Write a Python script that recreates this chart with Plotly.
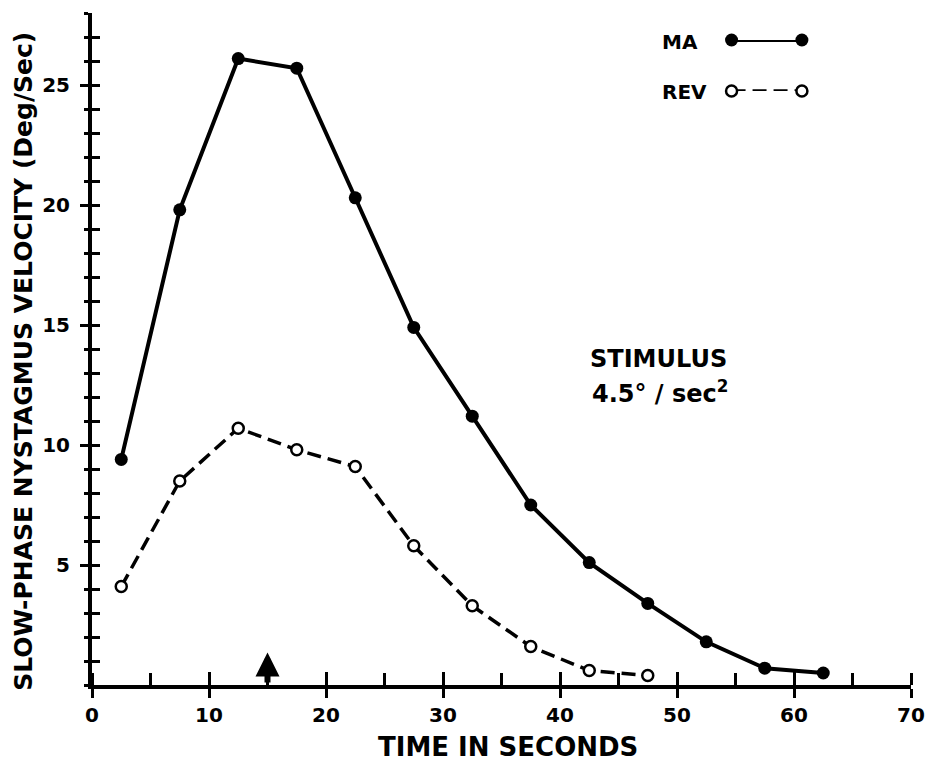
import plotly.graph_objects as go

# ---- data ----
time_ma = [2.5, 7.5, 12.5, 17.5, 22.5, 27.5, 32.5, 37.5, 42.5, 47.5, 52.5, 57.5, 62.5]
vel_ma = [9.4, 19.8, 26.1, 25.7, 20.3, 14.9, 11.2, 7.5, 5.1, 3.4, 1.8, 0.7, 0.5]
time_rev = [2.5, 7.5, 12.5, 17.5, 22.5, 27.5, 32.5, 37.5, 42.5, 47.5]
vel_rev = [4.1, 8.5, 10.7, 9.8, 9.1, 5.8, 3.3, 1.6, 0.6, 0.4]
x_ticks = [0, 10, 20, 30, 40, 50, 60, 70]
y_ticks = [5, 10, 15, 20, 25]
stimulus_time = 15
legend_names = ["MA", "REV"]

FONT = "DejaVu Sans"
BLACK = "black"

fig = go.Figure()

fig.add_trace(go.Scatter(
    x=time_ma, y=vel_ma, mode="lines+markers", name="MA",
    line=dict(color=BLACK, width=4),
    marker=dict(symbol="circle", size=13, color=BLACK),
    cliponaxis=False, showlegend=False))

fig.add_trace(go.Scatter(
    x=time_rev, y=vel_rev, mode="lines+markers", name="REV",
    line=dict(color=BLACK, width=3.5, dash="14px,7px"),
    marker=dict(symbol="circle", size=11, color="white",
                line=dict(color=BLACK, width=2.5)),
    cliponaxis=False, showlegend=False))

# invisible trace so the overlay axes (extra tick directions) are drawn
fig.add_trace(go.Scatter(x=time_ma, y=vel_ma, xaxis="x2", yaxis="y2",
                         mode="markers", marker=dict(opacity=0),
                         hoverinfo="skip", showlegend=False))

# custom legend keys
fig.add_trace(go.Scatter(x=[0, 1], y=[1, 1], xaxis="x3", yaxis="y3",
                         mode="lines+markers",
                         line=dict(color=BLACK, width=4),
                         marker=dict(size=13, color=BLACK),
                         cliponaxis=False, showlegend=False, hoverinfo="skip"))
fig.add_trace(go.Scatter(x=[0, 1], y=[0, 0], xaxis="x3", yaxis="y3",
                         mode="lines+markers",
                         line=dict(color=BLACK, width=3.5, dash="14px,7px"),
                         marker=dict(size=11, color="white",
                                     line=dict(color=BLACK, width=2.5)),
                         cliponaxis=False, showlegend=False, hoverinfo="skip"))

tickfont = dict(family=FONT, size=20, color=BLACK, weight="bold")

fig.update_layout(
    width=937, height=766,
    margin=dict(l=92, r=19, t=13, b=81),
    paper_bgcolor="white", plot_bgcolor="white",
    font=dict(family=FONT, color=BLACK),
    xaxis=dict(range=[0, 70], showgrid=False, zeroline=False,
               showline=True, linewidth=4, linecolor=BLACK,
               tickmode="array", tickvals=x_ticks,
               ticktext=[str(v) for v in x_ticks],
               ticks="outside", ticklen=9, tickwidth=3, tickcolor=BLACK,
               ticklabelstandoff=0,
               minor=dict(dtick=5, ticks="inside", ticklen=12, tickwidth=3,
                          tickcolor=BLACK, showgrid=False),
               tickfont=tickfont, fixedrange=True),
    yaxis=dict(range=[0, 28], showgrid=False, zeroline=False,
               showline=True, linewidth=4, linecolor=BLACK,
               tickmode="array", tickvals=y_ticks,
               ticktext=[str(v) for v in y_ticks],
               ticks="outside", ticklen=8, tickwidth=3, tickcolor=BLACK,
               ticklabelstandoff=6,
               minor=dict(dtick=1, ticks="outside", ticklen=4, tickwidth=3,
                          tickcolor=BLACK, showgrid=False),
               tickfont=tickfont, fixedrange=True),
    xaxis2=dict(range=[0, 70], overlaying="x", showgrid=False, zeroline=False,
                showline=False, tickmode="array", tickvals=x_ticks,
                ticks="inside", ticklen=13, tickwidth=3, tickcolor=BLACK,
                showticklabels=False, side="bottom", fixedrange=True),
    yaxis2=dict(range=[0, 28], overlaying="y", showgrid=False, zeroline=False,
                showline=False, tickmode="array", tickvals=y_ticks,
                ticks="inside", ticklen=8, tickwidth=3, tickcolor=BLACK,
                minor=dict(dtick=1, ticks="inside", ticklen=8, tickwidth=3,
                           tickcolor=BLACK, showgrid=False),
                showticklabels=False, side="left", fixedrange=True),
    xaxis3=dict(domain=[0.7809, 0.8668], range=[0, 1], visible=False,
                anchor="y3", fixedrange=True),
    yaxis3=dict(domain=[0.8839, 0.9598], range=[0, 1], visible=False,
                anchor="x3", fixedrange=True),
)

bold = dict(family=FONT, color=BLACK, weight="bold")

annotations = [
    # stimulus marker arrow
    dict(x=stimulus_time, y=1.35, ax=stimulus_time, ay=0, xref="x", yref="y",
         axref="x", ayref="y", text=" ", showarrow=True, arrowhead=2,
         arrowwidth=6, arrowsize=0.8, arrowcolor=BLACK, standoff=0,
         font=dict(size=2)),
    # legend texts
    dict(x=0.6937, y=0.9573, xref="paper", yref="paper", text=legend_names[0],
         showarrow=False, xanchor="left", yanchor="middle",
         font=dict(size=20, **bold)),
    dict(x=0.6937, y=0.8829, xref="paper", yref="paper", text=legend_names[1],
         showarrow=False, xanchor="left", yanchor="middle",
         font=dict(size=20, **bold)),
    # stimulus text
    dict(x=0.6913, y=0.4851, xref="paper", yref="paper", text="STIMULUS",
         showarrow=False, xanchor="center", yanchor="middle",
         font=dict(size=24, **bold)),
    dict(x=0.6937, y=0.436, xref="paper", yref="paper",
         text="4.5° / sec<sup>2</sup>",
         showarrow=False, xanchor="center", yanchor="middle",
         font=dict(size=24, **bold)),
    # axis titles
    dict(x=-0.0847, y=0.482, xref="paper", yref="paper",
         text="SLOW-PHASE NYSTAGMUS VELOCITY (Deg/Sec)", textangle=-90,
         showarrow=False, xanchor="center", yanchor="middle",
         font=dict(size=25, **bold)),
    dict(x=0.5085, y=-0.0923, xref="paper", yref="paper",
         text="TIME IN SECONDS",
         showarrow=False, xanchor="center", yanchor="middle",
         font=dict(size=26, **bold)),
]
fig.update_layout(annotations=annotations)

fig.write_html(
    "out.html", config={"displayModeBar": False, "responsive": False},
    post_script=("document.body.style.margin='0px';"
                 "document.body.style.overflow='hidden';"
                 "document.documentElement.style.overflow='hidden';"))
